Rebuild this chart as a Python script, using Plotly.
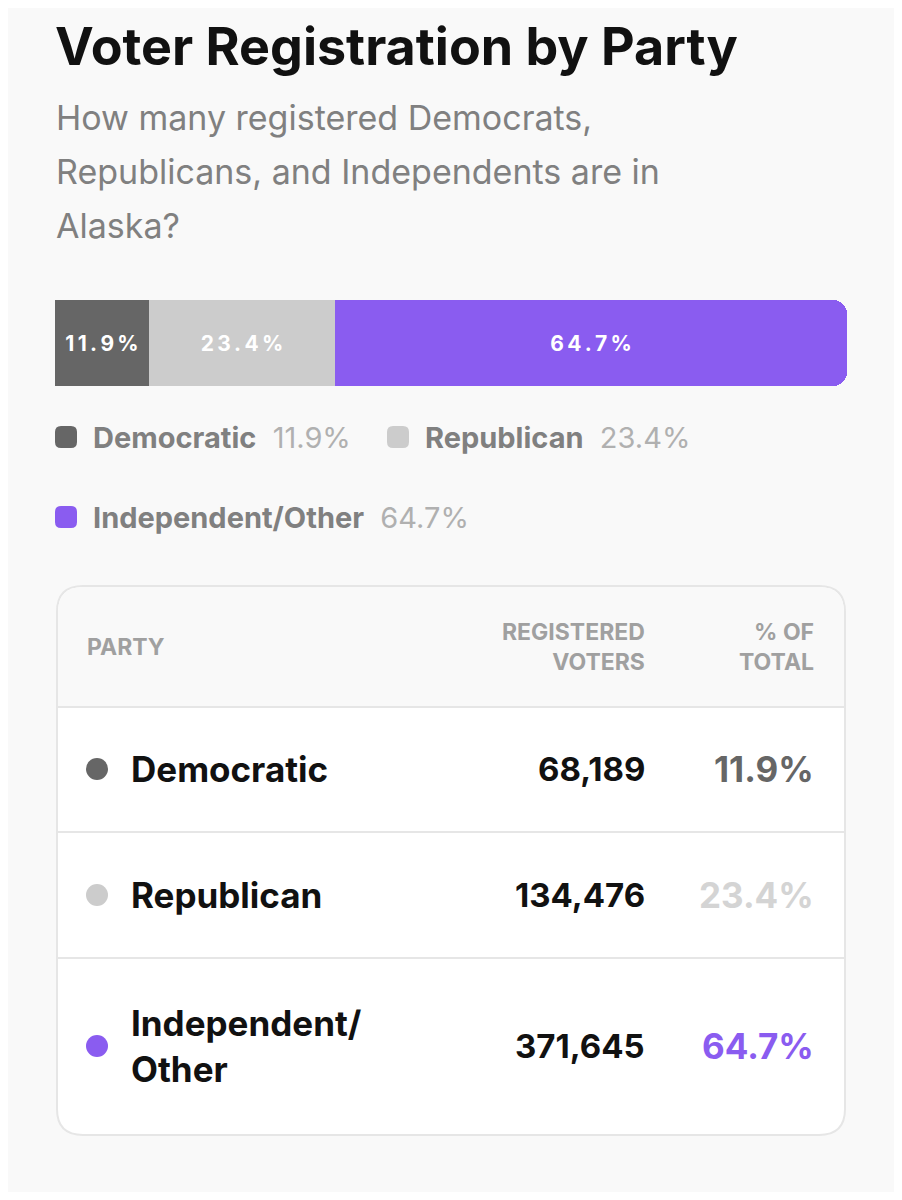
import plotly.graph_objects as go

parties = ["Democratic", "Republican", "Independent/Other"]
table_names = ["Democratic", "Republican", "Independent/<br>Other"]
voters = [68189, 134476, 371645]
shares = [11.9, 23.4, 64.7]
colors = ["#666666", "#cccccc", "#8a5cf0"]
pct_colors = ["#666666", "#d4d4d4", "#8a5cf0"]

OFF = 8  # page body margin
W, H = 902 - 2 * OFF, 1200 - 2 * OFF
FONT = "Inter"


def px(x):
    return (x - OFF) / W


def py(y):
    return 1 - (y - OFF) / H


def rounded_rect(x0, y0, x1, y1, r):
    # path in paper coordinates, r in pixels
    rx, ry = r / W, r / H
    X0, X1, Y0, Y1 = px(x0), px(x1), py(y1), py(y0)
    return (f"M {X0+rx} {Y0} L {X1-rx} {Y0} Q {X1} {Y0} {X1} {Y0+ry} "
            f"L {X1} {Y1-ry} Q {X1} {Y1} {X1-rx} {Y1} L {X0+rx} {Y1} "
            f"Q {X0} {Y1} {X0} {Y1-ry} L {X0} {Y0+ry} Q {X0} {Y0} {X0+rx} {Y0} Z")


def spaced(s):
    return "\u2009".join(s)


fig = go.Figure()
for name, s, c in zip(parties, shares, colors):
    fig.add_trace(go.Bar(
        y=["AK"], x=[s], orientation="h", marker_color=c, marker_line_width=0,
        text=[f"<b>{spaced(f'{s}%')}</b>"], textposition="inside", insidetextanchor="middle",
        textfont=dict(color="white", size=21, family=FONT), name=name,
        hoverinfo="skip"))

fig.update_layout(
    width=W, height=H, margin=dict(l=0, r=0, t=0, b=0),
    paper_bgcolor="#f9f9f9", plot_bgcolor="rgba(0,0,0,0)",
    barmode="stack", bargap=0, showlegend=False, barcornerradius=14,
    xaxis=dict(domain=[px(55), px(847)], range=[0, 100], visible=False, fixedrange=True),
    yaxis=dict(domain=[py(386), py(300)], visible=False, fixedrange=True),
)

ann = []
shapes = []
ann.append(dict(x=px(53), y=py(47), text="<b>Voter Registration by Party</b>",
                font=dict(size=52, color="#111", family=FONT)))
for i, line in enumerate(["How many registered Democrats,",
                          "Republicans, and Independents are in", "Alaska?"]):
    ann.append(dict(x=px(54), y=py(117 + 54.5 * i), text=line,
                    font=dict(size=34, color="#808080", family=FONT)))

# legend
leg_pos = [(66, 437), (398, 437), (66, 517)]
for (lx, ly), name, s, c in zip(leg_pos, parties, shares, colors):
    shapes.append(dict(type="path", path=rounded_rect(lx - 11, ly - 11, lx + 11, ly + 11, 6),
                       xref="paper", yref="paper", fillcolor=c, line_width=0))
    ann.append(dict(x=px(lx + 25), y=py(ly),
                    text=f"<b>{name}</b>  <span style='color:#b0b0b0'>{s}%</span>",
                    font=dict(size=29, color="#808080", family=FONT)))

# table box
shapes.append(dict(type="path", path=rounded_rect(57, 586, 845, 1135, 26),
                   xref="paper", yref="paper", fillcolor="white",
                   line=dict(color="#e6e6e6", width=2), layer="below"))
shapes.append(dict(type="path", path=rounded_rect(58, 587, 844, 707, 25),
                   xref="paper", yref="paper", fillcolor="#f9f9f9", line_width=0, layer="below"))
shapes.append(dict(type="rect", xref="paper", yref="paper", x0=px(58), x1=px(844),
                   y0=py(707), y1=py(680), fillcolor="#f9f9f9", line_width=0, layer="below"))
for yy in [707, 832, 958]:
    shapes.append(dict(type="line", xref="paper", yref="paper", x0=px(58), x1=px(844),
                       y0=py(yy), y1=py(yy), line=dict(color="#e6e6e6", width=2)))

hfont = dict(size=23, color="#a0a0a0", family=FONT)
ann.append(dict(x=px(85), y=py(647), text="<b>PARTY</b>", font=hfont))
ann.append(dict(x=px(647), y=py(647), text="<b>REGISTERED<br>VOTERS</b>", font=hfont,
                xanchor="right", align="right"))
ann.append(dict(x=px(816), y=py(647), text="<b>% OF<br>TOTAL</b>", font=hfont,
                xanchor="right", align="right"))

row_y = [769, 895, 1046]
for ry, name, v, s, c, pc in zip(row_y, table_names, voters, shares, colors, pct_colors):
    shapes.append(dict(type="circle", xref="paper", yref="paper", x0=px(86), x1=px(108),
                       y0=py(ry - 11), y1=py(ry + 11), fillcolor=c, line_width=0))
    ann.append(dict(x=px(129), y=py(ry), text=f"<b>{name}</b>", align="left",
                    font=dict(size=35, color="#111", family=FONT)))
    ann.append(dict(x=px(647), y=py(ry), text=f"<b>{v:,}</b>", xanchor="right",
                    font=dict(size=33, color="#111", family=FONT)))
    ann.append(dict(x=px(816), y=py(ry), text=f"<b>{s}%</b>", xanchor="right",
                    font=dict(size=35, color=pc, family=FONT)))

for a in ann:
    a.setdefault("xanchor", "left")
    a.update(xref="paper", yref="paper", yanchor="middle", showarrow=False)
fig.update_layout(annotations=ann, shapes=shapes)
fig.write_html("out.html")
